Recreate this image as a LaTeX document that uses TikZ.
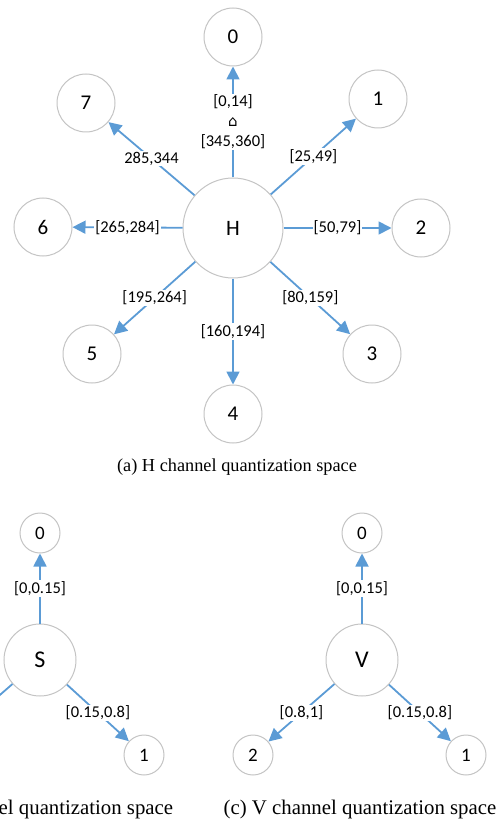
\documentclass[tikz,border=0pt]{standalone}
\usepackage{fontspec}
\setmainfont{Liberation Serif}
\newfontfamily\calib{Carlito}
\newfontfamily\dejavu{DejaVu Sans}
\usetikzlibrary{arrows.meta}
\definecolor{edgeblue}{HTML}{5B9BD5}
\definecolor{ringgray}{HTML}{C4C4C4}
\tikzset{
  ring/.style={circle, draw=ringgray, line width=1pt, inner sep=0pt, fill=white},
  hub/.style={ring, minimum size=100pt, font=\calib\fontsize{22}{22}\selectfont},
  leaf/.style={ring, minimum size=58pt, font=\calib\fontsize{21}{21}\selectfont},
  subhub/.style={ring, minimum size=72pt, font=\calib\fontsize{24}{24}\selectfont},
  subleaf/.style={ring, minimum size=40pt, font=\calib\fontsize{19}{19}\selectfont},
  link/.style={draw=edgeblue, line width=1.8pt, -{Triangle[length=13pt,width=13pt]}},
  lab/.style={fill=white, inner sep=1pt, text=black, font=\calib\fontsize{16.5}{20}\selectfont},
  caption/.style={inner sep=0pt, font=\fontsize{18.3}{18.3}\selectfont},
  subcaption/.style={inner sep=0pt, font=\fontsize{20.8}{20.8}\selectfont}
}
\begin{document}
\begin{tikzpicture}[x=1pt, y=-1pt]
  \useasboundingbox (0,0) rectangle (499,821);
  \clip (0,0) rectangle (499,821);

  % (a) hue quantization
  \node[hub]  (H)  at (233,228) {H};
  \node[leaf] (h0) at (233,37)  {0};
  \node[leaf] (h1) at (378,99)  {1};
  \node[leaf] (h2) at (421,228) {2};
  \node[leaf] (h3) at (372,354) {3};
  \node[leaf] (h4) at (233,414) {4};
  \node[leaf] (h5) at (92,354)  {5};
  \node[leaf] (h6) at (43,227)  {6};
  \node[leaf] (h7) at (86,103)  {7};

  \draw[link] (H) -- node[lab, align=center]{{[0,14]}\\{\dejavu\fontsize{15}{15}\selectfont ⌂}\\{[345,360]}} (h0);
  \draw[link] (H) -- node[lab]{[25,49]} (h1);
  \draw[link] (H) -- node[lab]{[50,79]} (h2);
  \draw[link] (H) -- node[lab]{[80,159]} (h3);
  \draw[link] (H) -- node[lab]{[160,194]} (h4);
  \draw[link] (H) -- node[lab]{[195,264]} (h5);
  \draw[link] (H) -- node[lab]{[265,284]} (h6);
  \draw[link] (H) -- node[lab]{285,344} (h7);

  \node[caption] (capa) at (237,467) {(a) H channel quantization space};

  % (b) saturation quantization
  \node[subhub]  (S)  at (40,660)  {S};
  \node[subleaf] (s0) at (40,533)  {0};
  \node[subleaf] (s1) at (144,755) {1};
  \node[subleaf] (s2) at (-69,755) {2};
  \draw[link] (S) -- node[lab]{[0,0.15]} (s0);
  \draw[link] (S) -- node[lab]{[0.15,0.8]} (s1);
  \draw[link] (S) -- node[lab]{[0.8,1]} (s2);
  \node[subcaption] (capb) at (38,809) {(b) S channel quantization space};

  % (c) value quantization
  \node[subhub]  (V)  at (362,660) {V};
  \node[subleaf] (v0) at (362,533) {0};
  \node[subleaf] (v1) at (466,755) {1};
  \node[subleaf] (v2) at (253,755) {2};
  \draw[link] (V) -- node[lab]{[0,0.15]} (v0);
  \draw[link] (V) -- node[lab]{[0.15,0.8]} (v1);
  \draw[link] (V) -- node[lab]{[0.8,1]} (v2);
  \node[subcaption] (capc) at (360,809) {(c) V channel quantization space};
\end{tikzpicture}
\end{document}
